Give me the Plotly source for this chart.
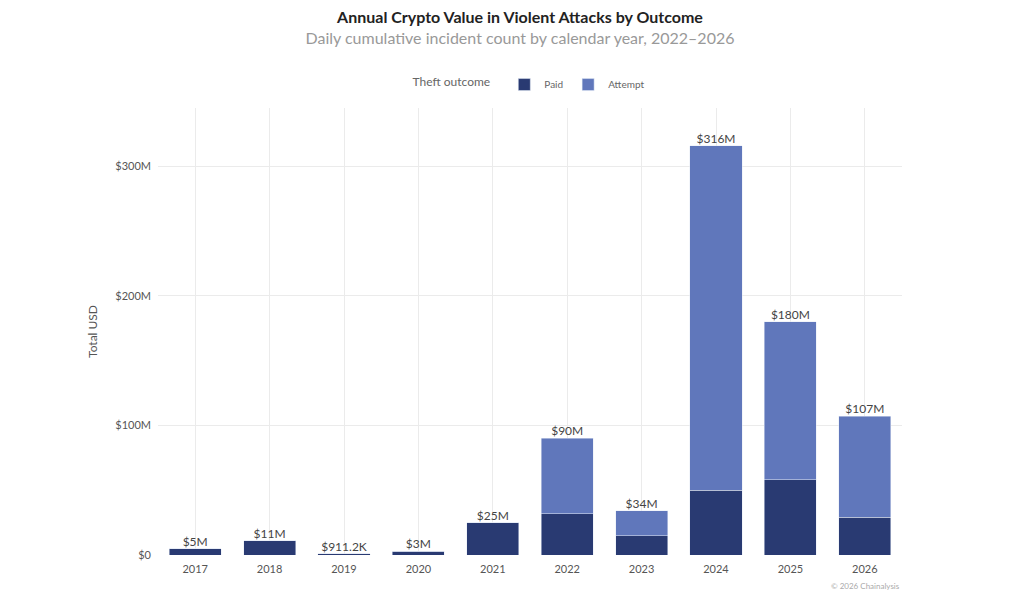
import plotly.graph_objects as go

years = ["2017", "2018", "2019", "2020", "2021", "2022", "2023", "2024", "2025", "2026"]
paid = [5, 11, 0.9112, 3, 25, 32, 15, 50, 58, 29]
attempt = [0, 0, 0, 0, 0, 58, 19, 266, 122, 78]
total_labels = ["$5M", "$11M", "$911.2K", "$3M", "$25M", "$90M", "$34M", "$316M", "$180M", "$107M"]
totals = [p + a for p, a in zip(paid, attempt)]

fig = go.Figure()
fig.add_trace(go.Bar(x=years, y=paid, name="Paid", marker_color="#293a72"))
fig.add_trace(go.Bar(x=years, y=attempt, name="Attempt", marker_color="#6077bb"))
# total labels above each full stack
fig.add_trace(go.Scatter(x=years, y=totals, mode="text", text=total_labels, textposition="top center",
                         textfont=dict(size=12, color="#444"), showlegend=False, cliponaxis=False))

fig.update_layout(
    barmode="stack", bargap=0.3,
    width=1024, height=597,
    paper_bgcolor="white", plot_bgcolor="white",
    font=dict(family="Lato, Open Sans, sans-serif", color="#555"),
    margin=dict(l=150, r=130, t=100, b=50, autoexpand=False),
    title=dict(text="<b>Annual Crypto Value in Violent Attacks by Outcome</b><br>"
                    "<span style='font-size:16px;color:#999'>Daily cumulative incident count by calendar year, 2022–2026</span>",
               x=0.5, xanchor="center", y=0.975, yanchor="top", font=dict(size=16, color="#222")),
    legend=dict(orientation="h", x=0.5, xanchor="center", y=1.02, yanchor="bottom",
                traceorder="normal", title=dict(text="Theft outcome  ", side="left"),
                font=dict(size=10, color="#666")),
    showlegend=True,
)
fig.update_yaxes(range=[0, 345], tickvals=[0, 100, 200, 300], ticktext=["$0", "$100M", "$200M", "$300M"],
                 gridcolor="#ebebeb", zeroline=False, title=dict(text="Total USD", font=dict(size=12)),
                 tickfont=dict(size=11, color="#555"), ticklabelstandoff=6)
fig.update_xaxes(showgrid=True, gridcolor="#ebebeb", tickfont=dict(size=11, color="#555"), ticks="",
                 ticklabelstandoff=6)
fig.add_annotation(text="© 2026 Chainalysis", xref="paper", yref="paper", x=1, y=-0.085,
                   xanchor="right", showarrow=False, font=dict(size=8, color="#aaa"))
fig.write_html("out.html")
